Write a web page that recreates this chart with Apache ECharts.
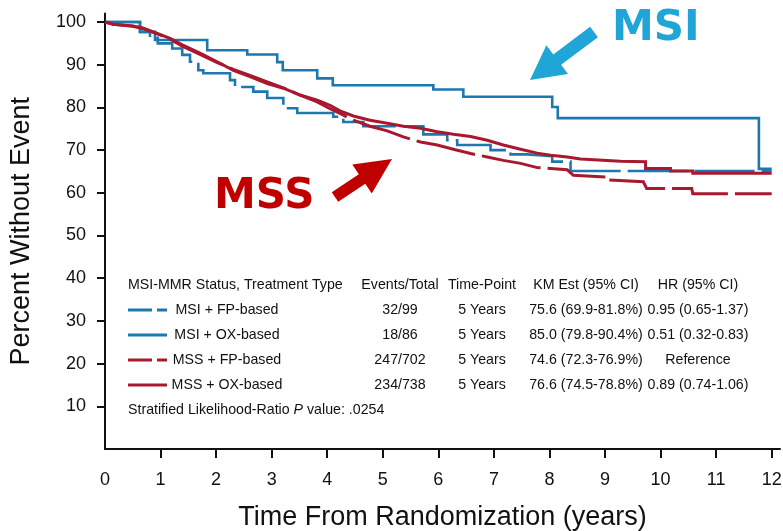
<!DOCTYPE html>
<html>
<head>
<meta charset="utf-8">
<script src="https://cdn.jsdelivr.net/npm/echarts@6/dist/echarts.min.js"></script>
<style>
  html, body { margin: 0; padding: 0; background: #fff; }
  #chart { width: 783px; height: 531px; }
</style>
</head>
<body>
<div id="chart"></div>
<script>
// Axis tick values
const xLabelValues = [0, 1, 2, 3, 4, 5, 6, 7, 8, 9, 10, 11, 12];
const xTickValues = [1, 2, 3, 4, 5, 6, 7, 8, 9, 10, 11, 12];
const yTickValues = [10, 20, 30, 40, 50, 60, 70, 80, 90, 100];

// Kaplan-Meier curves: [years, percent without event]
const msiFp = [[0,100],[0.63,97.7],[0.81,96.3],[0.95,95.0],[1.21,93.8],[1.39,92.3],[1.53,90.7],[1.68,88.7],[1.77,88.0],[2.25,86.4],[2.34,84.8],[2.67,83.7],[2.92,82.2],[3.21,79.8],[3.46,78.7],[4.11,77.8],[4.29,76.6],[4.65,75.6],[5.73,73.7],[6.16,72.3],[6.34,71.2],[6.94,70.0],[7.30,69.0],[7.60,68.6],[8.05,67.3],[8.38,65.1],[12,65.1]];
const msiOx = [[0,100],[0.63,97.7],[0.90,95.8],[1.84,93.4],[2.56,92.4],[3.10,90.6],[3.20,88.7],[3.82,86.8],[4.10,85.2],[5.91,84.2],[6.45,82.5],[8.05,80.1],[8.15,77.5],[11.77,65.6],[12,65.6]];
const mssFp = [[0,100],[0.15,99.5],[0.5,99.0],[0.68,98.5],[0.93,97.3],[1.17,96.0],[1.40,94.3],[1.71,92.4],[2.02,90.5],[2.31,88.9],[2.61,87.5],[2.92,86.0],[3.21,84.6],[3.51,82.9],[3.82,81.3],[4.05,79.7],[4.23,78.6],[4.47,77.0],[4.77,75.6],[5.08,74.5],[5.37,73.1],[5.68,71.9],[5.98,71.2],[6.27,70.2],[6.58,69.2],[6.88,68.4],[7.17,67.6],[7.48,66.9],[7.78,65.9],[8.02,65.7],[8.32,65.4],[8.43,64.1],[9.05,63.7],[9.05,63.0],[9.69,62.6],[9.75,61.0],[10.56,61.0],[10.58,59.8],[12,59.8]];
const mssOx = [[0,100],[0.15,99.5],[0.5,99.1],[0.68,98.6],[0.93,97.4],[1.17,96.2],[1.40,94.6],[1.71,92.7],[2.02,90.7],[2.31,88.7],[2.61,87.2],[2.92,85.6],[3.21,84.5],[3.51,82.9],[3.82,81.7],[4.05,80.5],[4.23,79.2],[4.47,78.0],[4.77,77.0],[5.08,76.3],[5.37,75.6],[5.68,75.1],[5.98,74.3],[6.27,73.7],[6.58,73.2],[6.88,72.3],[7.17,71.2],[7.48,70.2],[7.78,69.3],[8.02,68.8],[8.32,68.4],[8.56,67.9],[9.28,67.4],[9.73,67.3],[9.73,65.7],[10.18,65.7],[10.18,65.1],[10.58,65.1],[10.58,64.6],[12,64.6]];

// Summary table
const tableHeader = ['MSI-MMR Status, Treatment Type', 'Events/Total', 'Time-Point', 'KM Est (95% CI)', 'HR (95% CI)'];
const groupNames = ['MSI + FP-based', 'MSI + OX-based', 'MSS + FP-based', 'MSS + OX-based'];
const eventsTotal = ['32/99', '18/86', '247/702', '234/738'];
const timePoints = ['5 Years', '5 Years', '5 Years', '5 Years'];
const kmEstimates = ['75.6 (69.9-81.8%)', '85.0 (79.8-90.4%)', '74.6 (72.3-76.9%)', '76.6 (74.5-78.8%)'];
const hazardRatios = ['0.95 (0.65-1.37)', '0.51 (0.32-0.83)', 'Reference', '0.89 (0.74-1.06)'];
const pValueText = '.0254';

const BLUE = '#1C78AE';
const RED = '#A8182F';
const INK = '#111111';
const SANS = "'Liberation Sans', Arial, sans-serif";

const groupColors = [BLUE, BLUE, RED, RED];
const groupDashed = [true, false, true, false];

const chart = echarts.init(document.getElementById('chart'), null, { renderer: 'canvas' });

function curve(name, data, color, width, dashed, step) {
  return {
    name, type: 'line', data, step: step ? 'end' : false,
    showSymbol: false, symbol: 'none', animation: false, silent: true,
    lineStyle: { color, width, type: dashed ? [60, 7] : 'solid', cap: 'butt', join: 'miter' }
  };
}

// Thick block arrow from tail (tx,ty) to tip (px,py)
function arrow(tx, ty, px, py, shaftHalf, headLen, headHalf, color) {
  const dx = px - tx, dy = py - ty, len = Math.hypot(dx, dy);
  const ux = dx / len, uy = dy / len, nx = -uy, ny = ux;
  const bx = px - ux * headLen, by = py - uy * headLen;
  const pts = [
    [tx + nx * shaftHalf, ty + ny * shaftHalf],
    [bx + nx * shaftHalf, by + ny * shaftHalf],
    [bx + nx * headHalf, by + ny * headHalf],
    [px, py],
    [bx - nx * headHalf, by - ny * headHalf],
    [bx - nx * shaftHalf, by - ny * shaftHalf],
    [tx - nx * shaftHalf, ty - ny * shaftHalf]
  ];
  return { type: 'polygon', shape: { points: pts }, style: { fill: color }, silent: true, z: 100 };
}

const graphics = [];
const rowY = [310, 335, 360, 385];
const colX = [128, 400, 482, 586, 698];
const tfont = '14.2px ' + SANS;

// header row
graphics.push({ type: 'text', x: colX[0], y: 285, style: { text: tableHeader[0], font: tfont, fill: INK, textAlign: 'left', textVerticalAlign: 'middle' }, silent: true });
for (let c = 1; c < tableHeader.length; c++) {
  graphics.push({ type: 'text', x: colX[c], y: 285, style: { text: tableHeader[c], font: tfont, fill: INK, textAlign: 'center', textVerticalAlign: 'middle' }, silent: true });
}
// body rows with line samples
const cols = [eventsTotal, timePoints, kmEstimates, hazardRatios];
groupNames.forEach((g, i) => {
  graphics.push({ type: 'line', shape: { x1: 128, y1: rowY[i], x2: 167, y2: rowY[i] },
    style: { stroke: groupColors[i], lineWidth: 3, lineDash: groupDashed[i] ? [24, 5] : null }, silent: true });
  graphics.push({ type: 'text', x: 227, y: rowY[i], style: { text: g, font: tfont, fill: INK, textAlign: 'center', textVerticalAlign: 'middle' }, silent: true });
  cols.forEach((col, c) => {
    graphics.push({ type: 'text', x: colX[c + 1], y: rowY[i], style: { text: col[i], font: tfont, fill: INK, textAlign: 'center', textVerticalAlign: 'middle' }, silent: true });
  });
});
graphics.push({ type: 'text', x: colX[0], y: 410, silent: true, style: {
  text: '{a|Stratified Likelihood-Ratio }{i|P}{a| value: ' + pValueText + '}',
  textAlign: 'left', textVerticalAlign: 'middle',
  rich: { a: { font: tfont, fill: INK }, i: { font: 'italic ' + tfont, fill: INK } }
}});

// group annotations
graphics.push({ type: 'text', x: 612, y: 29, style: { text: 'MSI', font: 'bold 42px "DejaVu Sans", sans-serif', fill: '#1FA6D6', textAlign: 'left', textVerticalAlign: 'middle' }, silent: true, z: 100 });
graphics.push(arrow(594, 32, 530, 80, 6.5, 34, 18, '#1FA6D6'));
graphics.push({ type: 'text', x: 214, y: 197, style: { text: 'MSS', font: 'bold 42px "DejaVu Sans", sans-serif', fill: '#C00000', textAlign: 'left', textVerticalAlign: 'middle' }, silent: true, z: 100 });
graphics.push(arrow(335, 197, 392, 159, 5.8, 36, 17.5, '#C00000'));

chart.setOption({
  animation: false,
  backgroundColor: '#fff',
  grid: { left: 105, right: 3, top: 13.5, bottom: 82, containLabel: false, outerBoundsMode: 'none' },
  xAxis: {
    type: 'value', min: 0, max: 12.15, interval: 1,
    name: 'Time From Randomization (years)', nameLocation: 'middle', nameGap: 55,
    nameTextStyle: { fontFamily: SANS, fontSize: 27, color: INK },
    axisLine: { show: true, onZero: false, lineStyle: { color: INK, width: 2 } },
    axisTick: { show: true, length: 9, inside: false, customValues: xTickValues, lineStyle: { color: INK, width: 2 } },
    axisLabel: { customValues: xLabelValues, margin: 22, fontFamily: SANS, fontSize: 18, color: INK },
    splitLine: { show: false }
  },
  yAxis: {
    type: 'value', min: 0, max: 102, interval: 10,
    name: 'Percent Without Event', nameLocation: 'middle', nameGap: 70,
    nameTextStyle: { fontFamily: SANS, fontSize: 27, color: INK },
    axisLine: { show: true, lineStyle: { color: INK, width: 2 } },
    axisTick: { show: true, length: 8, inside: false, customValues: yTickValues, lineStyle: { color: INK, width: 2 } },
    axisLabel: { customValues: yTickValues, margin: 19, fontFamily: SANS, fontSize: 18, color: INK },
    splitLine: { show: false }
  },
  series: [
    curve('MSI + FP-based', msiFp, BLUE, 2.6, true, true),
    curve('MSI + OX-based', msiOx, BLUE, 2.6, false, true),
    curve('MSS + FP-based', mssFp, RED, 3, true, false),
    curve('MSS + OX-based', mssOx, RED, 3, false, false)
  ],
  graphic: graphics
});
</script>
</body>
</html>
